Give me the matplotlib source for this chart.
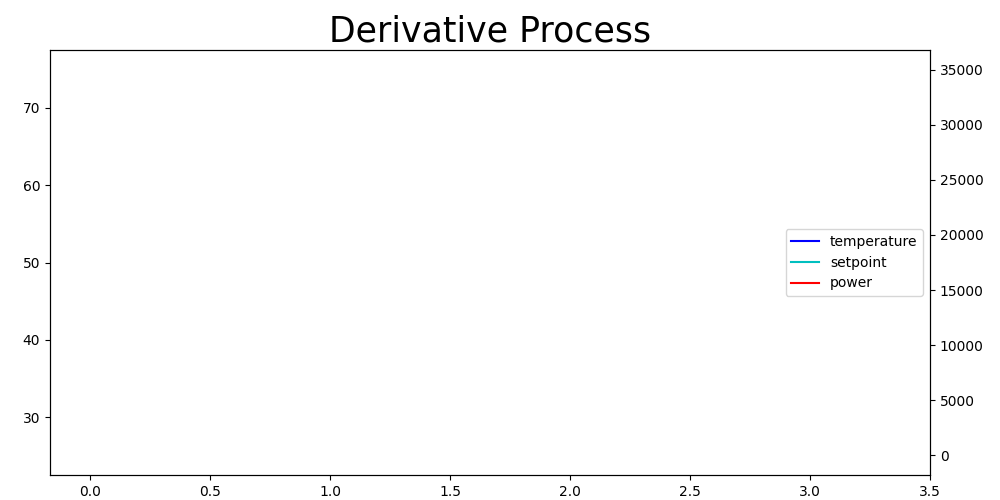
import matplotlib
matplotlib.use("Agg")
import matplotlib.pyplot as plt

# series are empty in the reference: only the axes and legend are drawn
time = []
temperature = []
setpoint = []
power = []

x_range = (-1 / 6, 3.5)
temp_range = (22.5, 77.5)
power_range = (-1818, 36818)

fig = plt.figure(figsize=(10, 5), dpi=100)
ax1 = fig.add_axes([0.05, 0.05, 0.88, 0.85])
ax2 = ax1.twinx()

l1, = ax1.plot(time, temperature, 'b-', label='temperature')
l2, = ax1.plot(time, setpoint, 'c-', label='setpoint')
l3, = ax2.plot(time, power, 'r-', label='power')

ax1.set_xlim(*x_range)
ax1.set_ylim(*temp_range)
ax2.set_ylim(*power_range)

ax1.set_title("Derivative Process", fontsize=25)
ax2.legend([l1, l2, l3], ['temperature', 'setpoint', 'power'], loc='center right')

fig.savefig("out.png")
